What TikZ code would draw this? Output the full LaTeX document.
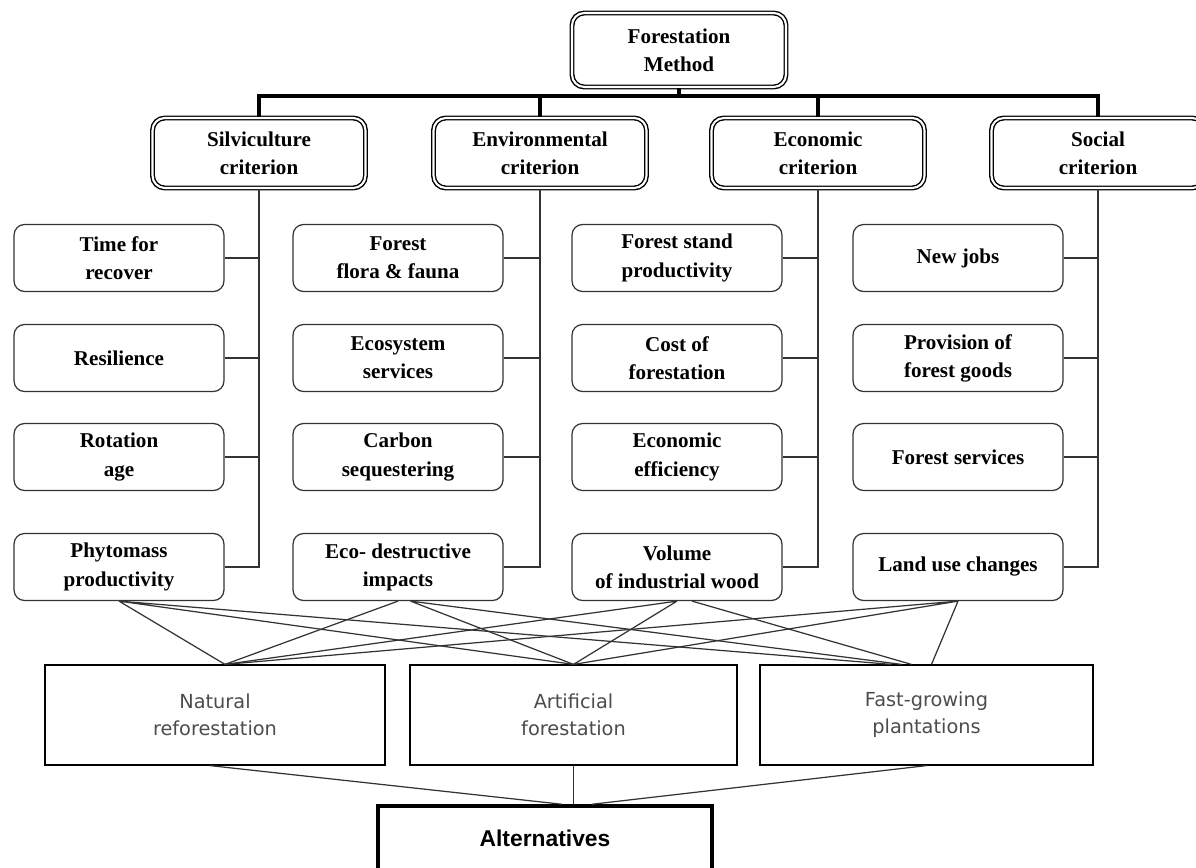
\documentclass[tikz,border=0pt]{standalone}
\usepackage{fontspec}
\setmainfont{Liberation Serif}
\newfontfamily\altfont{DejaVu Sans}
\newfontfamily\altboldfont{Liberation Sans}
\tikzset{
    head/.style={draw, double, double distance=1.2pt, line width=0.8pt, rounded corners=7pt,
        align=center, font=\fontsize{12}{16}\selectfont\bfseries},
    leaf/.style={draw=black!80, line width=0.7pt, rounded corners=6pt, minimum width=4.2cm,
        minimum height=1.34cm, align=center, font=\fontsize{12}{16}\selectfont\bfseries},
    option/.style={draw, line width=0.7pt, minimum height=2cm, align=center, text=black!70,
        font=\altfont\fontsize{11}{15.5}\selectfont},
    link/.style={draw=black!80, line width=0.7pt},
    bus/.style={line width=2.2pt},
}
\begin{document}
\begin{tikzpicture}[x=0.02cm,y=-0.02cm]
    \useasboundingbox (0,0) rectangle (1196,868);
    \clip (0,0) rectangle (1196,868);
    % goal and criteria
    \node[head, minimum width=4.28cm, minimum height=1.48cm] (goal) at (679,50) {Forestation\\Method};
    \node[head, minimum width=4.26cm, minimum height=1.4cm] (silv) at (259,153) {Silviculture\\criterion};
    \node[head, minimum width=4.26cm, minimum height=1.4cm] (env) at (540,153) {Environmental\\criterion};
    \node[head, minimum width=4.26cm, minimum height=1.4cm] (econ) at (818,153) {Economic\\criterion};
    \node[head, minimum width=4.26cm, minimum height=1.4cm] (soc) at (1098,153) {Social\\criterion};
    \draw[bus] (silv.north) -- ++(0,-21) coordinate(b) -| (soc.north);
    \draw[bus] (goal.south) -- (goal.south |- b);
    \draw[bus] (env.north) -- (env.north |- b);
    \draw[bus] (econ.north) -- (econ.north |- b);
    % sub-criteria
    \node[leaf] (s1) at (119,258) {Time for\\recover};
    \node[leaf] (s2) at (119,358) {Resilience};
    \node[leaf] (s3) at (119,457) {Rotation\\age};
    \node[leaf] (s4) at (119,567) {Phytomass\\productivity};
    \node[leaf] (e1) at (398,258) {Forest\\flora \& fauna};
    \node[leaf] (e2) at (398,358) {Ecosystem\\services};
    \node[leaf] (e3) at (398,457) {Carbon\\sequestering};
    \node[leaf] (e4) at (398,567) {Eco- destructive\\impacts};
    \node[leaf] (c1) at (677,258) {Forest stand\\productivity};
    \node[leaf] (c2) at (677,358) {Cost of\\forestation};
    \node[leaf] (c3) at (677,457) {Economic\\efficiency};
    \node[leaf] (c4) at (677,567) {Volume\\of industrial wood};
    \node[leaf] (o1) at (958,258) {New jobs};
    \node[leaf] (o2) at (958,358) {Provision of\\forest goods};
    \node[leaf] (o3) at (958,457) {Forest services};
    \node[leaf] (o4) at (958,567) {Land use changes};
    \draw[link] (silv.south) -- (silv.south |- s4.east) -- (s4.east);
    \draw[link] (s1.east) -- (s1.east -| silv.south) (s2.east) -- (s2.east -| silv.south) (s3.east) -- (s3.east -| silv.south);
    \draw[link] (env.south) -- (env.south |- e4.east) -- (e4.east);
    \draw[link] (e1.east) -- (e1.east -| env.south) (e2.east) -- (e2.east -| env.south) (e3.east) -- (e3.east -| env.south);
    \draw[link] (econ.south) -- (econ.south |- c4.east) -- (c4.east);
    \draw[link] (c1.east) -- (c1.east -| econ.south) (c2.east) -- (c2.east -| econ.south) (c3.east) -- (c3.east -| econ.south);
    \draw[link] (soc.south) -- (soc.south |- o4.east) -- (o4.east);
    \draw[link] (o1.east) -- (o1.east -| soc.south) (o2.east) -- (o2.east -| soc.south) (o3.east) -- (o3.east -| soc.south);
    % alternatives
    \node[option, minimum width=6.8cm] (nat) at (215,715) {Natural\\reforestation};
    \node[option, minimum width=6.54cm] (art) at (573.5,715) {Artificial\\forestation};
    \node[option, minimum width=6.66cm] (fast) at (926.5,715) {Fast-growing\\plantations};
    \node[draw, line width=2pt, minimum width=6.68cm, minimum height=1.28cm, font=\altboldfont\fontsize{13}{15}\selectfont\bfseries] (alt) at (545,838) {Alternatives};
    \draw[link] (s4.south) -- ([xshift=0.2cm]nat.north) (s4.south) -- (art.north) (s4.south) -- ([xshift=-0.7cm]fast.north);
    \draw[link] (e4.south) -- ([xshift=0.2cm]nat.north) ([xshift=0.25cm]e4.south) -- (art.north) ([xshift=0.25cm]e4.south) -- ([xshift=-0.5cm]fast.north);
    \draw[link] (c4.south) -- ([xshift=0.2cm]nat.north) (c4.south) -- (art.north) ([xshift=0.3cm]c4.south) -- ([xshift=-0.3cm]fast.north);
    \draw[link] (o4.south) -- ([xshift=0.2cm]nat.north) (o4.south) -- (art.north) (o4.south) -- ([xshift=0.1cm]fast.north);
    \draw[link] ([xshift=-0.1cm]nat.south) -- ([xshift=0.34cm]alt.north);
    \draw[link] (art.south) -- (art.south |- alt.north);
    \draw[link] (fast.south) -- ([xshift=0.94cm]alt.north);
\end{tikzpicture}
\end{document}
